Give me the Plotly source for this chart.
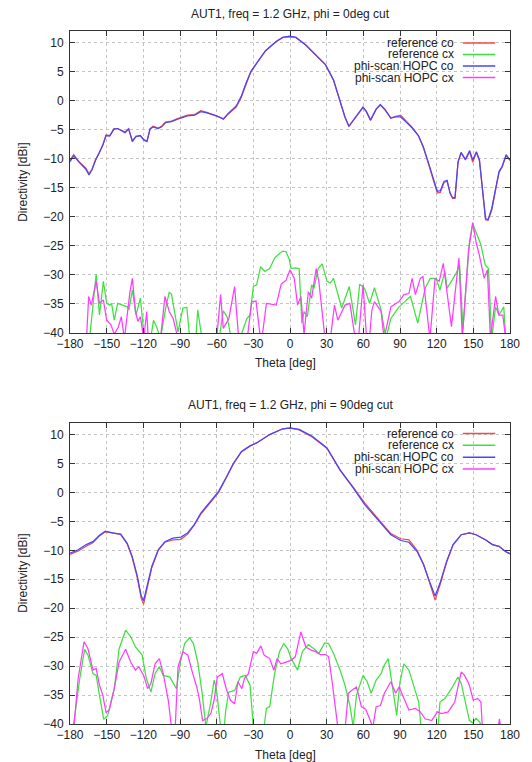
import plotly.graph_objects as go

# ---------------- data: phi = 0 deg cut ----------------
top_co_theta = [-180, -177, -173, -169, -167, -164.5, -162, -159, -156, -153, -150.5, -147.5, -144, -141,
                -138.5, -135, -132, -129, -126, -122.5, -119.5, -117, -114.5, -112, -108, -105, -102, -97,
                -92, -88, -84, -78, -73, -68, -60, -54.5, -51, -44, -40, -36, -32, -26.5, -20, -11.3, -5.9,
                -0.5, 4.8, 12.9, 20.9, 29, 35.6, 41, 45, 48.2, 53, 59.7, 62.4, 65.9, 70.4, 73.9, 77.7, 82.5,
                86.5, 90.5, 94.6, 100, 105, 109, 113, 117, 120.5, 123, 126, 128.5, 131, 133, 135, 137.5,
                140, 143.5, 147, 149.5, 152.5, 155, 157.5, 160, 162, 165, 168, 171, 173.6, 176.8, 180]
top_hopc_co = [-10.5, -9.5, -10.5, -11.4, -11.8, -12.8, -11.9, -10.2, -9.0, -7.6, -6.0, -6.1, -4.9, -4.8,
               -5.1, -5.5, -4.9, -6.9, -6.2, -6.0, -6.8, -7.0, -4.9, -4.5, -4.8, -4.5, -3.8, -3.6,
               -3.2, -2.9, -2.6, -2.5, -1.9, -2.1, -2.6, -3.2, -2.3, -0.9, 0.7, 3.0, 5.0, 6.7, 8.6, 10.2, 10.9,
               11.1, 10.9, 9.6, 7.9, 6.2, 3.6, -0.2, -2.8, -4.4, -3.0, -1.1, -1.8, -3.3, -1.5, -0.7, -1.5, -3.0,
               -2.8, -2.8, -3.6, -4.7, -6.0, -7.9, -10.5, -13.3, -15.6, -15.5, -13.9, -13.7, -15.9, -16.7, -16.7, -10.5,
               -8.9, -10.1, -8.6, -10.2, -8.8, -10.2, -15.4, -20.3, -20.5, -18.6, -15.4, -12.2, -11.3, -9.3, -10.2]
top_ref_co = [-10.3, -9.3, -10.4, -11.3, -11.6, -12.6, -11.8, -10.1, -9.0, -7.5, -5.9, -6.0, -4.8, -4.8,
              -5.0, -5.4, -4.8, -7.1, -6.1, -6.0, -6.7, -7.0, -4.8, -4.4, -4.7, -4.4, -3.7, -3.5,
              -3.1, -2.8, -2.5, -2.4, -1.7, -2.0, -2.6, -3.1, -2.4, -1.1, 0.5, 2.9, 5.0, 6.7, 8.6, 10.2, 10.9,
              11.0, 10.9, 9.6, 7.9, 6.2, 3.5, -0.3, -2.9, -4.4, -3.1, -1.2, -1.9, -3.4, -1.5, -0.7, -1.6, -3.0,
              -2.7, -2.5, -3.4, -4.6, -6.0, -8.0, -10.7, -13.6, -15.9, -15.8, -14.1, -13.8, -16.0, -16.8, -16.8, -10.6,
              -9.0, -10.2, -8.8, -10.6, -8.9, -10.3, -15.6, -20.5, -20.6, -18.9, -15.6, -12.4, -11.4, -9.5, -10.3]

top_ref_cx_theta = [-170, -164, -158.6, -155.9, -152.7, -150, -147.5, -146, -143.8, -141, -137, -133, -131.8,
                    -129, -126, -122.4, -119.7, -117, -114, -111.7, -109, -106, -101.5, -98.8, -97, -94.3,
                    -91.6, -87.6, -84.4, -82, -77, -75.5, -72, -58, -54.6, -51.5, -48.5, -42, -39.4, -35.3,
                    -32.7, -30, -27.3, -24.1, -20.6, -16.6, -12.6, -8.6, -5.9, -3.2, -0.5, 0.8, 4, 7.5, 9.7,
                    11.5, 14.2, 17.7, 19.6, 23, 26.3, 30.3, 33, 35.6, 42.3, 48.5, 53.6, 57, 61, 65.1, 69.1,
                    74.5, 78.5, 82.5, 89.2, 98.6, 104.5, 110.6, 114.7, 119.5, 122.7, 126.7, 128.6, 136, 138.8,
                    141.5, 146.8, 149.5, 152.2, 156.2, 159.7, 162.4, 165, 168.2, 170.9, 174.9, 176.5]
top_ref_cx = [-42, -41, -29.9, -36.9, -31.1, -34.9, -35.2, -34.9, -37.8, -34.9, -35.2, -35.5, -36.0,
              -32.6, -36.9, -34.0, -39.8, -42, -41, -37.8, -39.0, -41, -35.5, -33.0, -33.3, -36.3,
              -39.8, -35.7, -35.6, -41, -41, -36.0, -41, -41, -36.2, -37.2, -40.5, -41, -40.0, -37.5,
              -36.9, -32.0, -31.7, -28.6, -29.4, -28.9, -27.1, -26.3, -25.9, -26.0, -27.4, -28.9, -28.8, -28.9, -38.3,
              -36.3, -37.2, -31.7, -32.3, -28.9, -28.1, -31.1, -31.4, -30.6, -35.7, -32.0, -38.6, -31.6, -32.3, -34.9, -32.2,
              -36.0, -41, -37.5, -35.5, -33.7, -38.3, -32.3, -30.6, -30.6, -32.6, -29.4, -32.3, -29.7, -28.3,
              -39.2, -24.3, -21.2, -22.8, -24.8, -28.3, -28.9, -41, -35.5, -36.9, -35.5, -41]

top_hopc_cx_theta = [-166.5, -164.7, -162.6, -158.6, -155.9, -152.7, -150, -146.5, -143.8, -140.5, -138, -135.5,
                     -131, -129, -126.4, -124.5, -122.4, -119.7, -117.2, -116, -106, -102.3, -98.8, -95.6, -91.6,
                     -60, -56.8, -54.6, -50, -45.3, -42, -35, -31.3, -27.8, -24.6, -23, -19.3, -11.3, -7.2, -3.2,
                     0, 3.5, 6.2, 8.9, 11.5, 15, 17.7, 21.4, 23.6, 28.4, 33, 36.4, 39.1, 45, 49, 53, 56, 59.8,
                     62.5, 65, 67, 69.1, 74.5, 77, 82.5, 89.2, 93.2, 97.3, 99.9, 102.6, 106.6, 108.8, 114.5,
                     118.7, 122.1, 125.4, 132.1, 138.2, 141, 146, 149.5, 152.2, 154.9, 158.9, 161.5, 164, 168.2,
                     170.9, 174.1, 176.5]
top_hopc_cx = [-41, -33.7, -35.2, -31.1, -34.9, -34.3, -37.8, -38.6, -40.2, -39.0, -37.2, -41,
               -33.0, -30.6, -36.3, -38.0, -37.2, -41, -36.3, -41, -41, -33.7, -36.3, -37.5, -41,
               -41, -33.4, -39.2, -37.5, -32.0, -41, -41, -34.6, -34.5, -40.2, -41, -34.9, -35.2, -31.6, -30.9,
               -29.1, -30.6, -35.2, -33.7, -40.2, -32.9, -34.0, -28.9, -31.1, -40.5, -41, -35.2, -37.8, -35.2, -34.9, -40.5, -41, -31.7,
               -40.5, -41, -36.0, -34.6, -36.3, -41, -35.5, -34.6, -33.4, -33.2, -30.6, -33.4, -30.6, -30.3, -41,
               -30.6, -31.1, -28.0, -38.9, -27.1, -41, -26.0, -21.0, -24.3, -26.6, -30.6, -29.1, -41, -33.7,
               -36.9, -36.9, -41]

# ---------------- data: phi = 90 deg cut ----------------
bot_co_theta = [-180, -173.3, -166.7, -161.3, -155.9, -151.1, -145.2, -138.5, -133.2, -129.2, -125.2, -121.7,
                -119.8, -117.1, -113.1, -107.8, -102.4, -95.9, -89.2, -83.8, -78.5, -73.1, -65.1, -58.4, -51.7,
                -46.4, -39.7, -33, -27, -20, -16.6, -5.9, 0, 7.5, 18.2, 30.3, 41, 51.7, 61.1, 71.8, 82.5, 90.6,
                97.3, 104, 109.3, 114.7, 118.7, 122.7, 128.1, 133.4, 140.1, 146.8, 152.2, 160.2, 165.6, 171,
                176.3, 180]
bot_hopc_co = [-10.5, -9.9, -9.0, -8.5, -7.4, -6.7, -7.0, -7.2, -8.8, -11.0, -14.2, -17.9,
               -18.7, -16.3, -12.8, -9.9, -8.5, -7.9, -7.7, -7.0, -5.6, -3.6, -1.6, 0.2, 2.8,
               5.0, 7.1, 8.0, 8.6, 9.6, 10.0, 11.0, 11.15, 10.9, 9.7, 7.7, 3.9, 0.8, -2.1, -4.7, -7.3, -8.3,
               -8.6, -10.2, -12.5, -15.7, -17.9, -15.7, -11.9, -9.0, -7.3, -7.0, -7.3, -8.2, -9.0, -9.3,
               -10.2, -10.6]
bot_ref_co = [-10.7, -10.1, -9.3, -8.7, -7.5, -6.8, -7.0, -7.3, -8.9, -11.2, -14.5, -18.3,
              -19.3, -16.7, -13.0, -10.0, -8.6, -8.2, -8.1, -7.2, -5.7, -3.8, -1.8, 0.0, 2.7,
              4.9, 7.0, 8.0, 8.6, 9.6, 10.0, 11.0, 11.1, 10.8, 9.6, 7.6, 3.8, 0.9, -1.8, -4.5, -7.1, -8.0,
              -8.2, -10.0, -12.4, -15.9, -18.6, -16.0, -12.1, -9.1, -7.3, -7.0, -7.3, -8.2, -9.0, -9.3,
              -10.2, -10.6]

bot_ref_cx_theta = [-177.3, -172, -168, -165.3, -161.2, -158.6, -155.9, -152.4, -149.2, -143.8, -139.8, -134.5,
                    -130.4, -126.4, -121, -117.6, -113.8, -110.4, -106.9, -103.7, -98.3, -92.9, -89.7, -86.2,
                    -82.2, -79, -75.5, -72, -68.8, -66.5, -64.8, -62.1, -60.3, -56.8, -54, -52.5, -50.1, -45.3,
                    -40.7, -36.7, -32.7, -30, -21.5, -19.3, -16.6, -12.6, -8.6, -5.1, -1.9, 0.8, 6.2, 10.2, 15,
                    19.6, 23.6, 28.4, 31.6, 35.6, 41, 45, 49, 51.7, 54.4, 59.8, 63.2, 66.4, 70.5, 74.5, 77.2,
                    80.4, 83.9, 87.3, 90, 93.2, 97.3, 101.3, 105.3, 107.2, 121, 122.7, 126.7, 132.1, 137.4,
                    140.1, 144.1, 146.8, 149.5, 152.2, 155.4, 157]
bot_ref_cx = [-40.5, -32.1, -27.1, -28.1, -31.3, -31.6, -35.0, -39.2, -38.5, -33.9, -27.0, -23.8,
              -24.9, -26.7, -28.1, -32.1, -34.5, -31.3, -30.1, -31.6, -31.9, -33.9, -29.3, -26.1,
              -25.1, -26.1, -29.3, -34.5, -40.5, -38.0, -36.2, -32.4, -33.8, -40.5, -41, -37.5, -34.5, -34.2,
              -31.9, -31.6, -33.3, -40.5, -41, -37.3, -37.0, -31.3, -27.5, -26.1, -27.0, -28.6, -30.7, -27.5, -26.3,
              -27.0, -27.8, -26.0, -26.1, -27.8, -30.7, -33.3, -36.8, -40.5, -35.0, -31.6, -32.7, -34.7, -32.4, -31.3, -29.8,
              -28.7, -33.9, -38.5, -32.7, -29.6, -30.7, -33.6, -36.2, -40.5, -41, -36.2, -35.6, -33.9, -31.9,
              -33.0, -36.8, -39.4, -39.8, -39.0, -39.7, -41]

bot_hopc_cx_theta = [-177, -173.3, -168.5, -165.3, -161.2, -158.6, -155.9, -153.2, -150.5, -147.9, -143.8, -139.8,
                     -134.5, -130.4, -126.4, -123.7, -119.7, -116.5, -113.8, -110.4, -106.9, -103.7, -99.6, -97,
                     -94, -91.6, -87.6, -83.6, -79.6, -76.3, -74.2, -71.5, -68.3, -64.8, -62.1, -59.5, -55.4,
                     -52.2, -48.7, -45.3, -42.6, -39.4, -37.2, -34, -30, -27.3, -23.8, -21.2, -16.6, -13.2,
                     -10.6, -7.4, -3.4, 0.8, 4.3, 8.9, 12.9, 16.9, 20.9, 24.9, 29, 31.6, 34.3, 37, 39.1, 45,
                     47.7, 50.4, 54.4, 58.4, 62, 67.8, 70.5, 74, 77.2, 82.5, 86.5, 89.2, 93.2, 97.3, 102.6,
                     106.6, 110.6, 116, 120.6, 124, 129.4, 134.8, 140.1, 142.8, 146.3, 150, 153.5, 156.2,
                     157.5, 170, 171.4, 172.5]
bot_hopc_cx = [-41, -32.1, -25.8, -27.0, -30.7, -30.4, -33.3, -35.0, -38.0, -37.6, -33.9, -29.3,
               -27.1, -29.3, -30.7, -30.1, -31.6, -33.9, -33.0, -29.6, -28.7, -31.3, -35.9, -40.5,
               -41, -30.1, -27.5, -28.1, -31.3, -33.6, -35.6, -39.4, -39.1, -38.2, -35.9, -31.9, -31.3,
               -33.9, -35.9, -36.5, -32.7, -33.9, -32.1, -31.3, -27.5, -27.8, -26.5, -28.1, -28.7, -30.7,
               -28.7, -29.6, -29.3, -29.0, -28.4, -24.1, -26.7, -27.2, -27.5, -28.0, -28.0, -28.4, -32.4, -37.3, -40.5, -41,
               -34.7, -34.2, -33.6, -37.0, -37.5, -40.5, -37.0, -36.8, -34.7, -32.7, -34.7, -33.6, -35.6, -37.6, -37.3,
               -37.9, -39.1, -39.4, -37.9, -38.2, -37.9, -36.2, -31.0, -31.6, -33.0, -35.9, -35.6, -36.2,
               -41, -41, -39.1, -41]

series_names = ["reference co", "reference cx", "phi-scan HOPC co", "phi-scan HOPC cx"]
series_colors = ["#f24a4a", "#3fe03f", "#4646ff", "#ff3cff"]
titles = ["AUT1, freq = 1.2 GHz, phi = 0deg cut", "AUT1, freq = 1.2 GHz, phi = 90deg cut"]
theta_ticks = list(range(-180, 181, 30))
db_ticks = list(range(-40, 11, 5))

FONT = "Liberation Sans, Arial, Helvetica, sans-serif"
TXT = "#222222"

fig = go.Figure()

panels = [
    (("x", "y"), [(top_co_theta, top_ref_co), (top_ref_cx_theta, top_ref_cx),
                  (top_co_theta, top_hopc_co), (top_hopc_cx_theta, top_hopc_cx)]),
    (("x2", "y2"), [(bot_co_theta, bot_ref_co), (bot_ref_cx_theta, bot_ref_cx),
                    (bot_co_theta, bot_hopc_co), (bot_hopc_cx_theta, bot_hopc_cx)]),
]
for (xa, ya), series in panels:
    for (th, val), name, col in zip(series, series_names, series_colors):
        fig.add_trace(go.Scatter(x=th, y=val, mode="lines", name=name, xaxis=xa, yaxis=ya,
                                 line=dict(color=col, width=1.25), showlegend=False,
                                 hoverinfo="x+y+name"))

axis_common = dict(showline=True, linecolor="#333333", linewidth=1, mirror="ticks",
                   ticks="inside", ticklen=5, tickcolor="#333333", tickwidth=1,
                   showgrid=True, gridcolor="#c4c4c4", griddash="dot", gridwidth=1,
                   zeroline=False, tickfont=dict(family=FONT, size=12, color=TXT))

top_dom = [(724 - 333) / 693, 1.0]
bot_dom = [0.0, (724 - 423) / 693]

fig.update_layout(
    width=532, height=762,
    margin=dict(l=70, r=14, t=31, b=38),
    paper_bgcolor="white", plot_bgcolor="white",
    font=dict(family=FONT, size=12, color=TXT),
    showlegend=False,
    xaxis=dict(domain=[0, 1], range=[-180, 180], tickvals=theta_ticks, anchor="y", **axis_common),
    yaxis=dict(domain=top_dom, range=[-40, 12], tickvals=db_ticks, anchor="x",
               ticklabelstandoff=3, **axis_common),
    xaxis2=dict(domain=[0, 1], range=[-180, 180], tickvals=theta_ticks, anchor="y2", **axis_common),
    yaxis2=dict(domain=bot_dom, range=[-40, 12], tickvals=db_ticks, anchor="x2",
                ticklabelstandoff=3, **axis_common),
)


def py(ypix):
    return (724 - ypix) / 693


def px(xpix):
    return (xpix - 70) / 448


annotations = []
shapes = []
panel_geo = [
    dict(title_y=14, xtitle_y=363, ytitle_y=182, legend_rows=[43, 54.5, 66, 77.5]),
    dict(title_y=405, xtitle_y=755, ytitle_y=573, legend_rows=[433.5, 445.3, 457.3, 469.1]),
]
for t, geo in zip(titles, panel_geo):
    annotations.append(dict(text=t, xref="paper", yref="paper", x=px(294), y=py(geo["title_y"]),
                            xanchor="center", yanchor="middle", showarrow=False,
                            font=dict(family=FONT, size=12, color=TXT)))
    annotations.append(dict(text="Theta [deg]", xref="paper", yref="paper", x=px(289), y=py(geo["xtitle_y"]),
                            xanchor="center", yanchor="middle", showarrow=False,
                            font=dict(family=FONT, size=12, color=TXT)))
    annotations.append(dict(text="Directivity [dBi]", xref="paper", yref="paper", x=px(22), y=py(geo["ytitle_y"]),
                            xanchor="center", yanchor="middle", textangle=-90, showarrow=False,
                            font=dict(family=FONT, size=12, color=TXT)))
    for row_y, name, col in zip(geo["legend_rows"], series_names, series_colors):
        annotations.append(dict(text=name, xref="paper", yref="paper", x=px(463), y=py(row_y),
                                xanchor="right", yanchor="middle", showarrow=False,
                                font=dict(family=FONT, size=12, color=TXT)))
        shapes.append(dict(type="line", xref="paper", yref="paper", x0=px(470), x1=px(503),
                           y0=py(row_y), y1=py(row_y), line=dict(color=col, width=1.5)))

fig.update_layout(annotations=annotations, shapes=shapes)

# remove the browser's default 8px body margin so the figure sits at the page origin
fig.write_html("out.html", config={"displayModeBar": False},
               post_script="document.body.style.margin='0';document.body.style.overflow='hidden';")
